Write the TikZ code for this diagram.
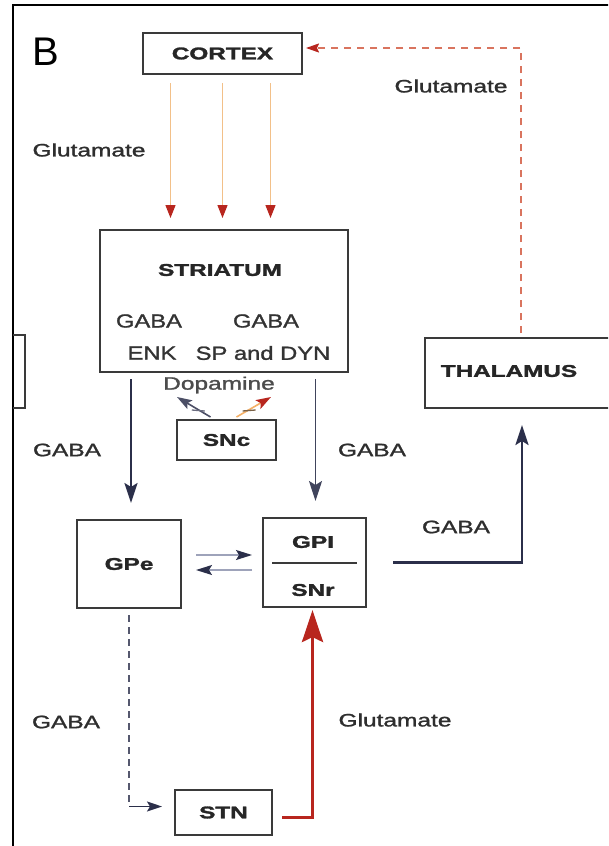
\documentclass[tikz,border=0pt]{standalone}
\usepackage{fontspec}
\usepackage{graphicx}
\setmainfont{Liberation Sans}
% slightly heavier strokes for the printed labels
\newfontfamily\labfont{Liberation Sans}[RawFeature={embolden=1.2}]
\newfontfamily\boxlabfont{Liberation Sans Bold}[RawFeature={embolden=1.5}]
\usetikzlibrary{arrows.meta,calc}

\definecolor{navy}{HTML}{2B2F4A}
\definecolor{glured}{HTML}{B8261E}
\definecolor{gluline}{HTML}{F2C089}
\definecolor{dashred}{HTML}{D9745E}
\definecolor{labc}{HTML}{2E2E2E}
\definecolor{boxc}{HTML}{3A3A3A}
\definecolor{pairline}{HTML}{9EA3BA}

% wide lettering used throughout the figure
\newcommand\wl[1]{\scalebox{1.36}[1]{#1}}
\newcommand\wb[1]{\scalebox{1.43}[1]{#1}}

\begin{document}
\begin{tikzpicture}[x=1pt,y=-1pt,
  box/.style={draw=boxc, line width=2pt, fill=white, inner sep=0pt,
    text=black!85, font=\boxlabfont\fontsize{17}{19}\selectfont},
  boxlab/.style={inner sep=0pt, text=black!85,
    font=\boxlabfont\fontsize{17}{19}\selectfont},
  lab/.style={text=labc, inner sep=0pt, font=\labfont\fontsize{18}{20}\selectfont},
  gluarrow/.style={gluline, line width=1.2pt,
    -{Triangle[length=13pt,width=10pt,color=glured]}},
  gabaarrow/.style={navy, line width=2.4pt,
    -{Stealth[length=20pt,width=13pt,inset=4pt]}},
  pairarrow/.style={pairline, line width=1.3pt,
    -{Stealth[length=16pt,width=10pt,inset=3pt,color=navy]}},
  dashglu/.style={dashred, line width=1.6pt, dash pattern=on 7pt off 6pt,
    -{Stealth[length=13pt,width=9pt,inset=2pt,color=glured]}},
  dashgaba/.style={navy!80, line width=2.4pt, dash pattern=on 7pt off 5pt},
  stnglu/.style={glured, line width=3.6pt,
    -{Stealth[length=32pt,width=21pt,inset=5pt]}},
  tickline/.style={line width=1.3pt},
]
% page and frame
\useasboundingbox (0,0) rectangle (608,846);
\clip (0,0) rectangle (608,846);
\fill[white] (0,0) rectangle (608,846);
\draw[black, line width=2.2pt] (13,848) -- (13,5) -- (610,5);
% edge of the neighbouring panel's box
\draw[boxc, line width=2pt] (13,335) -- (25,335) -- (25,408) -- (13,408);

\node[font=\fontsize{40}{40}\selectfont, inner sep=0pt] (panel) at (46,52) {B};

% nuclei
\node[box, minimum width=159pt, minimum height=41pt] (cortex) at (222.5,53.5) {\wb{CORTEX}};
\node[box, minimum width=248pt, minimum height=142pt] (striatum) at (224,301) {};
\node[boxlab] (striatumlab) at (220,270) {\wb{STRIATUM}};
\node[box, minimum width=99pt, minimum height=40pt] (snc) at (226.5,440) {\wb{SNc}};
\node[box, minimum width=104pt, minimum height=88pt] (gpe) at (129,564) {\wb{GPe}};
\node[box, minimum width=103pt, minimum height=89pt] (gpi) at (314.5,562.5) {};
% the thalamus box runs past the right edge of the figure
\node[box, anchor=west, minimum width=240pt, minimum height=70pt] (thal) at (424,373) {};
\node[box, minimum width=97pt, minimum height=45pt] (stn) at (223.5,812.5) {\wb{STN}};

\node[boxlab] (thallab) at (509,371) {\wb{THALAMUS}};
\node[boxlab] (gpilab) at (313,542) {\wb{GPI}};
\node[boxlab] (snrlab) at (313,590) {\wb{SNr}};
\draw[boxc, line width=1.6pt] ($(gpi.west)+(10,0.5)$) -- ($(gpi.east)+(-10,0.5)$);

% transmitter lines inside the striatum
\node[lab, text=black!80, font=\labfont\fontsize{19}{21}\selectfont] (gabaL) at (149,321) {\scalebox{1.25}[1]{GABA}};
\node[lab, text=black!80, font=\labfont\fontsize{19}{21}\selectfont] (gabaR) at (266,321) {\scalebox{1.25}[1]{GABA}};
\node[lab, text=black!80, font=\labfont\fontsize{19}{21}\selectfont] (enk) at (152,353) {\scalebox{1.25}[1]{ENK}};
\node[lab, text=black!80, font=\labfont\fontsize{19}{21}\selectfont] (spdyn) at (263,353) {\scalebox{1.25}[1]{SP and DYN}};

% cortex -> striatum
\foreach \dx in {-52,0,48}{
  \draw[gluarrow, shorten <=8pt, shorten >=11pt]
    ($(cortex.south)+(\dx,0)$) -- ($(cortex.south |- striatum.north)+(\dx,0)$);
}
\node[lab] (glu1) at (89,150) {\wl{Glutamate}};

% thalamus -> cortex
\coordinate (thcorner) at (521,48);
\coordinate (thup) at (521,373);
\draw[dashglu, shorten <=4pt, shorten >=3pt]
  (thal.north -| thup) -- (thcorner) -- (cortex.east |- thcorner);
\node[lab] (glu2) at (451,86) {\wl{Glutamate}};

% striatum -> GPe / GPi
\draw[gabaarrow, shorten <=6pt, shorten >=16pt]
  ($(gpe.north |- striatum.south)+(2,0)$) -- ($(gpe.north)+(2,0)$);
\draw[gabaarrow, navy!90, line width=1.8pt, shorten <=6pt, shorten >=16pt]
  ($(gpi.north |- striatum.south)+(1,0)$) -- ($(gpi.north)+(1,0)$);
\node[lab] (gaba1) at (67,450) {\wl{GABA}};
\node[lab] (gaba2) at (372,450) {\wl{GABA}};

% dopamine from SNc
\node[lab, text=black!70] (dopa) at (219,385) {\wl{Dopamine}};
\coordinate (dopL) at (177,397);
\coordinate (dopR) at (271,397);
\draw[navy!85, line width=1.6pt, -{Stealth[length=15pt,width=10pt,inset=3pt]}]
  ($(snc.north)+(-16,-2)$) -- (dopL) coordinate[pos=0.35] (tickL);
\draw[gluline!75!orange, line width=1.6pt, -{Stealth[length=15pt,width=10pt,inset=3pt,color=glured]}]
  ($(snc.north)+(10,-2)$) -- (dopR) coordinate[pos=0.35] (tickR);
\draw[tickline, navy!70] ($(tickL)+(-7,0)$) -- ($(tickL)+(6,1)$);
\draw[tickline, gluline!50!black] ($(tickR)+(-6,1)$) -- ($(tickR)+(7,0)$);

% GPe <-> GPi
\draw[pairarrow, shorten <=14pt, shorten >=10pt]
  ($(gpe.east)+(0,-9)$) -- ($(gpe.east -| gpi.west)+(0,-9)$);
\draw[pairarrow, shorten <=10pt, shorten >=14pt]
  ($(gpe.east -| gpi.west)+(0,6)$) -- ($(gpe.east)+(0,6)$);

% GPi -> thalamus
\coordinate (thin) at (522,373);
\draw[gabaarrow, shorten <=26pt, shorten >=16pt]
  (gpi.east) -| (thal.south -| thin);
\node[lab] (gaba3) at (456,527) {\wl{GABA}};

% GPe -> STN
\draw[dashgaba, shorten <=6pt] (gpe.south) -- ($(gpe.south |- stn.west)+(0,-6)$);
\draw[navy, line width=1.8pt, shorten >=12pt, -{Stealth[length=15pt,width=10pt,inset=3pt]}]
  ($(gpe.south |- stn.west)+(0,-6)$) -- ($(stn.west)+(0,-6)$);
\node[lab] (gaba4) at (66,722) {\wl{GABA}};

% STN -> GPi
\draw[stnglu, shorten <=9pt, shorten >=2pt]
  ($(stn.east)+(0,5)$) -| ($(gpi.south)+(-2,0)$);
\node[lab] (glu3) at (395,720) {\wl{Glutamate}};
\end{tikzpicture}
\end{document}
